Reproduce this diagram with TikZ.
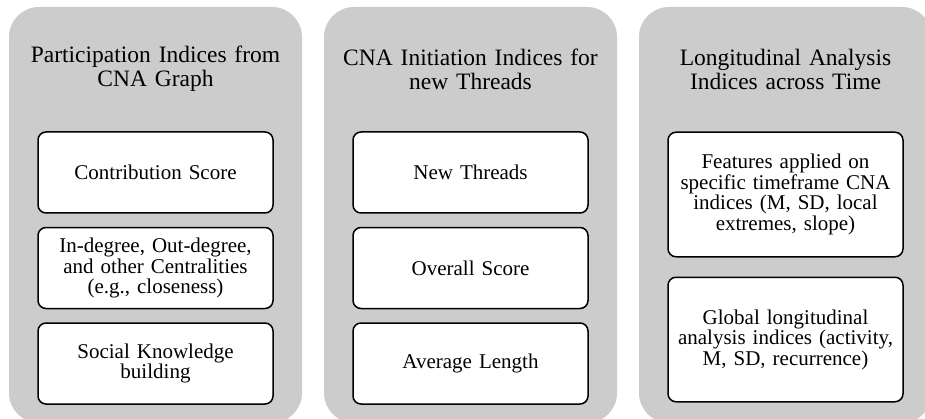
\documentclass[tikz,border=0pt]{standalone}
\usepackage{fontspec}
\setmainfont{Liberation Serif}
\usetikzlibrary{positioning}
\definecolor{pannello}{RGB}{204,204,204}
\begin{document}
\begin{tikzpicture}[x=1pt,y=1pt,align=center,node distance=13pt,
pannello/.style={fill=pannello,rounded corners=30pt,minimum width=293pt,minimum height=416pt,inner sep=0pt},
titolo/.style={text width=280pt,font=\fontsize{23.5}{24}\selectfont,inner sep=0pt},
voce/.style={draw,fill=white,line width=1.5pt,rounded corners=8pt,text width=222pt,inner sep=0pt,minimum width=235pt,minimum height=81pt,font=\fontsize{21}{20.5}\selectfont},
voceL/.style={voce,minimum height=124.5pt}
]
\useasboundingbox (0,0) rectangle (925,418);
\clip (0,0) rectangle (925,418);
%--
\node[pannello](pa) at (155.5,203){};
\node[pannello](pb) at (470.5,203){};
\node[pannello](pc) at (785.5,203){};
%--
\node[titolo](ta) at (155.5,349){Participation Indices from\\CNA Graph};
\node[titolo](tb) at (470.5,349){CNA Initiation Indices for\\new Threads};
\node[titolo](tc) at (785.5,349){Longitudinal Analysis\\Indices across Time};
%/////////////////////////////////////////////////////////
\node[voce](a1) at (155.5,245.5){Contribution Score};
\node[voce,below=of a1](a2){In-degree, Out-degree,\\and other Centralities\\(e.g., closeness)};
\node[voce,below=of a2](a3){Social Knowledge\\building};
%/////////////////////////////////////////////////////////
\node[voce](b1) at (470.5,245.5){New Threads};
\node[voce,below=of b1](b2){Overall Score};
\node[voce,below=of b2](b3){Average Length};
%/////////////////////////////////////////////////////////
\node[voceL](c1) at (785.5,223.5){Features applied on\\specific timeframe CNA\\indices (M, SD, local\\extremes, slope)};
\node[voceL,below=19pt of c1](c2){Global longitudinal\\analysis indices (activity,\\M, SD, recurrence)};
\end{tikzpicture}
\end{document}
